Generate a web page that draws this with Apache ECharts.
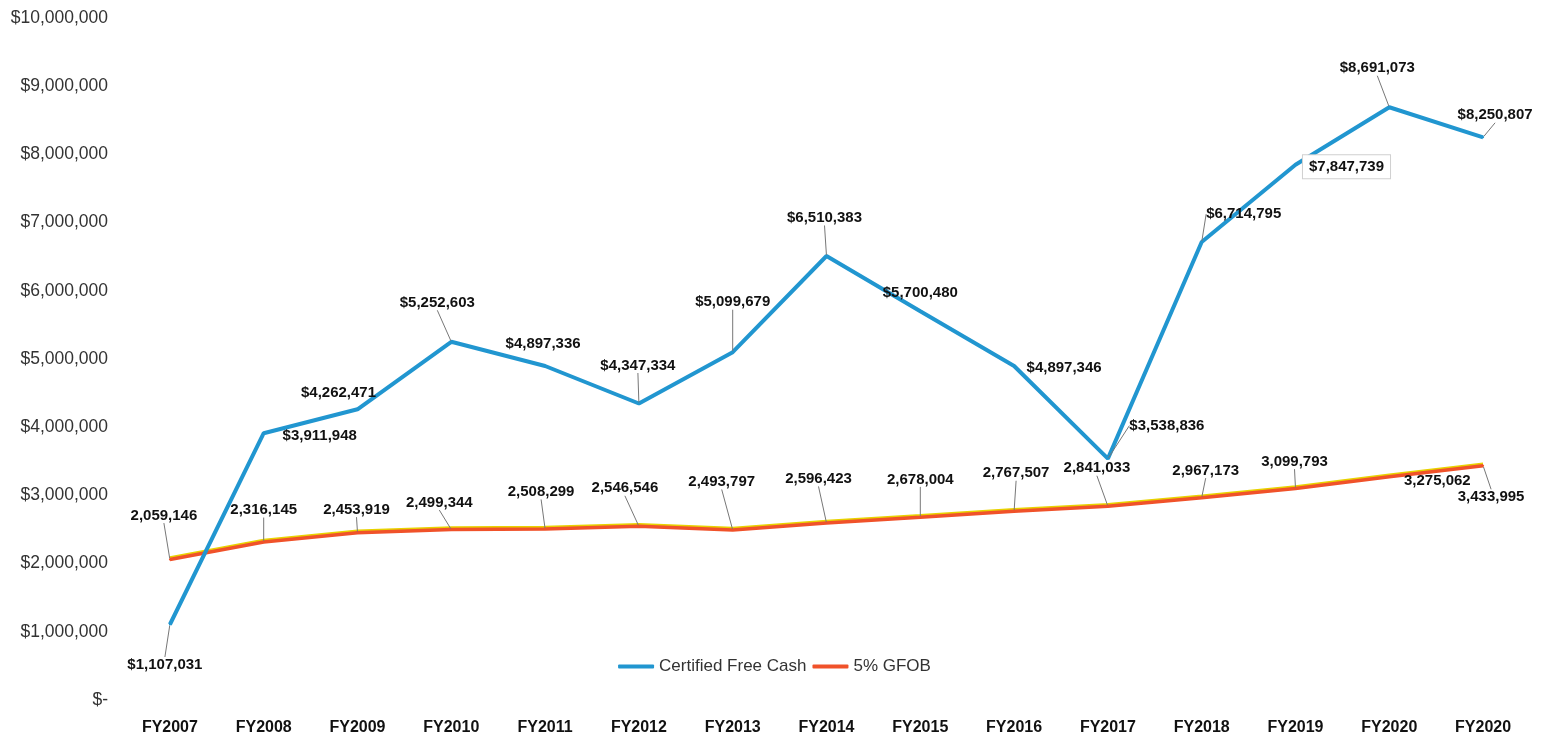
<!DOCTYPE html>
<html>
<head>
<meta charset="utf-8">
<script src="https://cdn.jsdelivr.net/npm/echarts@6/dist/echarts.min.js"></script>
<style>html,body{margin:0;padding:0;background:#fff}#c{width:1549px;height:745px}</style>
</head>
<body>
<div id="c"></div>
<script>
const categories = ['FY2007','FY2008','FY2009','FY2010','FY2011','FY2012','FY2013','FY2014','FY2015','FY2016','FY2017','FY2018','FY2019','FY2020','FY2020'];
const freeCash = [1107031,3911948,4262471,5252603,4897336,4347334,5099679,6510383,5700480,4897346,3538836,6714795,7847739,8691073,8250807];
const gfob = [2059146,2316145,2453919,2499344,2508299,2546546,2493797,2596423,2678004,2767507,2841033,2967173,3099793,3275062,3433995];
const yTicks = [0,1000000,2000000,3000000,4000000,5000000,6000000,7000000,8000000,9000000,10000000];

// label placement (pixel offsets from the point), layout only
const blueOff = [[-5,40],[56,3],[-19,-16],[-14,-39],[-2,-22],[-1,-38],[0,-50],[-2,-38],[0,-18],[50,2],[59,-33],[42,-28],[51,2],[-12,-39],[12,-22]];
const redOff = [[-6,-44],[0,-32],[-1,-23],[-12,-27],[-4,-37],[-14,-38],[-11,-48],[-8,-44],[0,-38],[2,-38],[-11,-38],[4,-27],[-1,-27],[48,4],[8,31]];
const noLine = {blue:[1,2,4,8,9,12], red:[13]};

const fmt = n => n.toLocaleString('en-US');
const FONT = '"Liberation Sans", Arial, sans-serif';

function layoutFn(off){
  return function(p){
    const o = off[p.dataIndex];
    return {x: p.rect.x + p.rect.width/2 + o[0], y: p.rect.y + p.rect.height/2 + o[1], align:'center', verticalAlign:'middle'};
  };
}

const blueData = freeCash.map((v,i)=>{
  const d = {value:v};
  if (noLine.blue.includes(i)) d.labelLine = {show:false};
  if (i === 12) d.label = {backgroundColor:'#fff', borderColor:'#d0d0d0', borderWidth:1, padding:[4,6]};
  return d;
});
const redData = gfob.map((v,i)=>{
  const d = {value:v};
  if (noLine.red.includes(i)) d.labelLine = {show:false};
  return d;
});

const chart = echarts.init(document.getElementById('c'));
chart.setOption({
  animation:false,
  backgroundColor:'#fff',
  grid:{left:123, right:19, top:18, bottom:45, containLabel:false},
  legend:{
    top:653, left:'center',
    itemWidth:36, itemHeight:4, itemGap:6,
    icon:'roundRect',
    textStyle:{fontFamily:FONT, fontSize:17, color:'#333'},
    data:['Certified Free Cash','5% GFOB']
  },
  xAxis:{
    type:'category', data:categories, boundaryGap:true,
    axisLine:{show:false}, axisTick:{show:false},
    axisLabel:{fontFamily:FONT, fontSize:16, fontWeight:'bold', color:'#111', margin:20, interval:0}
  },
  yAxis:{
    type:'value', min:yTicks[0], max:yTicks[yTicks.length-1], interval:1000000,
    splitLine:{show:false}, axisLine:{show:false}, axisTick:{show:false},
    axisLabel:{fontFamily:FONT, fontSize:17.5, color:'#333', margin:15,
      formatter:v=> v===0 ? '$-' : '$'+fmt(v)}
  },
  series:[
    {
      name:'Certified Free Cash', type:'line', data:blueData,
      symbol:'circle', symbolSize:2, showSymbol:true,
      itemStyle:{color:'#2196D0'},
      lineStyle:{color:'#2196D0', width:4},
      label:{show:true, fontFamily:FONT, fontSize:15, fontWeight:'bold', color:'#111',
        formatter:p=>'$'+fmt(p.value)},
      labelLine:{show:true, lineStyle:{color:'#777', width:1}},
      labelLayout:layoutFn(blueOff),
      z:3
    },
    {
      name:'5% GFOB', type:'line', data:redData,
      symbol:'circle', symbolSize:2, showSymbol:true,
      itemStyle:{color:'#F0522A'},
      lineStyle:{color:'#F0522A', width:3.5, shadowColor:'#E8D200', shadowBlur:0, shadowOffsetY:-1.5},
      label:{show:true, fontFamily:FONT, fontSize:15, fontWeight:'bold', color:'#111',
        formatter:p=>fmt(p.value)},
      labelLine:{show:true, lineStyle:{color:'#777', width:1}},
      labelLayout:layoutFn(redOff),
      z:2
    }
  ]
});
</script>
</body>
</html>
